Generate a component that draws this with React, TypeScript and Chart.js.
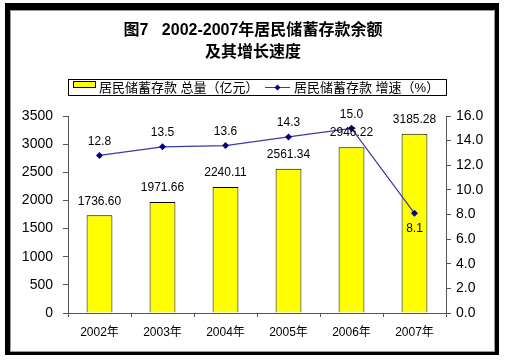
import React, { useEffect, useRef } from "react";
import { Chart, registerables } from "chart.js";

Chart.register(...registerables);

const categories = ["2002年", "2003年", "2004年", "2005年", "2006年", "2007年"];
const totalValues = [1736.6, 1971.66, 2240.11, 2561.34, 2946.22, 3185.28];
const totalLabels = ["1736.60", "1971.66", "2240.11", "2561.34", "2946.22", "3185.28"];
const growthValues = [12.8, 13.5, 13.6, 14.3, 15.0, 8.1];
const titleLines = ["图7   2002-2007年居民储蓄存款余额", "及其增长速度"];
const legendBar = "居民储蓄存款 总量（亿元）";
const legendLine = "居民储蓄存款 增速（%）";

const FONT = '"Liberation Sans", Arial, "Noto Sans CJK SC", sans-serif';
const LINE_COLOR = "#3a3aa0";
const POINT_COLOR = "#000080";

const overlayPlugin = {
  id: "overlay",
  afterDatasetsDraw(chart: any) {
    const ctx = chart.ctx;
    ctx.save();
    const barMeta = chart.getDatasetMeta(0);
    ctx.fillStyle = "#000";
    ctx.font = `12px ${FONT}`;
    ctx.textAlign = "center";
    ctx.textBaseline = "middle";
    barMeta.data.forEach((el: any, i: number) => {
      ctx.fillText(totalLabels[i], el.x, el.y - 14);
    });
    const lineMeta = chart.getDatasetMeta(1);
    lineMeta.data.forEach((el: any, i: number) => {
      const below = i === growthValues.length - 1;
      ctx.fillText(growthValues[i].toFixed(1), el.x, below ? el.y + 15 : el.y - 14);
    });
    ctx.restore();
  },
  afterDraw(chart: any) {
    const ctx = chart.ctx;
    ctx.save();
    ctx.strokeStyle = "#000";
    ctx.lineWidth = 1;
    ctx.strokeRect(68.5, 79.5, 378, 16);
    ctx.fillStyle = "#ffff00";
    ctx.fillRect(73, 81, 23, 6);
    ctx.strokeRect(73.5, 81.5, 22, 6);
    ctx.fillStyle = "#000";
    ctx.font = `13px ${FONT}`;
    ctx.textAlign = "left";
    ctx.textBaseline = "middle";
    ctx.fillText(legendBar, 99, 88);
    ctx.strokeStyle = LINE_COLOR;
    ctx.beginPath();
    ctx.moveTo(265, 87.5);
    ctx.lineTo(290, 87.5);
    ctx.stroke();
    ctx.fillStyle = POINT_COLOR;
    ctx.beginPath();
    ctx.moveTo(277.5, 84.5);
    ctx.lineTo(280.5, 87.5);
    ctx.lineTo(277.5, 90.5);
    ctx.lineTo(274.5, 87.5);
    ctx.closePath();
    ctx.fill();
    ctx.fillStyle = "#000";
    ctx.fillText(legendLine, 294, 88);
    ctx.restore();
  },
};

export default function App() {
  const ref = useRef<HTMLCanvasElement>(null);
  useEffect(() => {
    if (!ref.current) return;
    const chart = new Chart(ref.current, {
      type: "bar",
      data: {
        labels: categories,
        datasets: [
          {
            type: "bar",
            label: legendBar,
            data: totalValues,
            backgroundColor: "#ffff00",
            borderColor: "#000",
            borderWidth: 1,
            barPercentage: 0.41,
            categoryPercentage: 1,
            yAxisID: "y",
            order: 2,
          } as any,
          {
            type: "line",
            label: legendLine,
            data: growthValues,
            borderColor: LINE_COLOR,
            borderWidth: 1.2,
            pointStyle: "rectRot",
            pointRadius: 3.5,
            pointBackgroundColor: POINT_COLOR,
            pointBorderColor: POINT_COLOR,
            pointBorderWidth: 0,
            tension: 0,
            yAxisID: "y1",
            order: 1,
          } as any,
        ],
      },
      options: {
        responsive: false,
        animation: false,
        layout: { padding: { left: 0, right: 0, top: 0, bottom: 0 } },
        plugins: {
          legend: { display: false },
          tooltip: { enabled: false },
          title: {
            display: true,
            text: titleLines,
            color: "#000",
            font: { family: FONT, size: 16, weight: "bold", lineHeight: 22 / 16 },
            padding: { top: 20, bottom: 52 },
          },
        },
        scales: {
          x: {
            offset: true,
            grid: {
              display: true,
              offset: true,
              drawOnChartArea: false,
              drawTicks: true,
              tickLength: 4,
              color: "#555",
            },
            border: { display: true, color: "#555", width: 1 },
            ticks: { color: "#000", font: { family: FONT, size: 12 }, padding: 8, maxRotation: 0 },
            afterFit(scale: any) {
              scale.height = 48;
            },
          },
          y: {
            position: "left",
            min: 0,
            max: 3500,
            grid: { drawOnChartArea: false, drawTicks: true, tickLength: 5, color: "#555" },
            border: { display: true, color: "#555", width: 1 },
            ticks: {
              stepSize: 500,
              color: "#000",
              font: { family: FONT, size: 14 },
              padding: 10,
              callback: (v: any) => String(v),
            },
            afterFit(scale: any) {
              scale.width = 68;
            },
          },
          y1: {
            position: "right",
            min: 0,
            max: 16,
            grid: { drawOnChartArea: false, drawTicks: true, tickLength: 5, color: "#555" },
            border: { display: true, color: "#555", width: 1 },
            ticks: {
              stepSize: 2,
              color: "#000",
              font: { family: FONT, size: 14 },
              padding: 5,
              callback: (v: any) => Number(v).toFixed(1),
            },
            afterFit(scale: any) {
              scale.width = 60;
            },
          },
        },
      } as any,
      plugins: [overlayPlugin],
    });
    return () => chart.destroy();
  }, []);

  return (
    <div style={{ position: "fixed", left: 0, top: 0, width: 506, height: 361, background: "#fff" }}>
      <canvas ref={ref} width={506} height={361} style={{ display: "block", width: 506, height: 361 }} />
      <div
        style={{
          position: "absolute",
          left: 5,
          top: 3,
          width: 494,
          height: 352,
          boxSizing: "border-box",
          borderStyle: "solid",
          borderColor: "#000",
          borderLeftWidth: 5,
          borderTopWidth: 7,
          borderRightWidth: 4,
          borderBottomWidth: 3,
          pointerEvents: "none",
        }}
      >
        <div
          style={{
            position: "absolute",
            inset: 0,
            border: "1px solid #9a9a9a",
            pointerEvents: "none",
          }}
        />
      </div>
    </div>
  );
}
